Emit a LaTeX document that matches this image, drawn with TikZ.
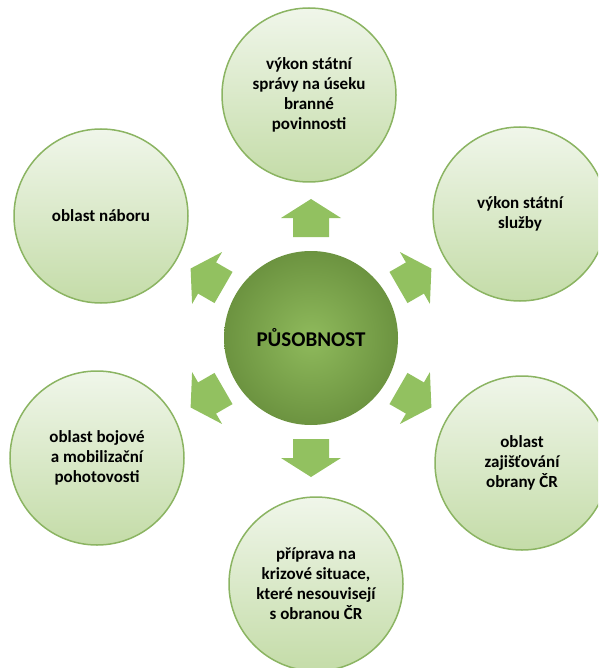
\documentclass[tikz,border=0pt]{standalone}
\usepackage{fontspec}
\setmainfont{Carlito}
\definecolor{ringline}{RGB}{139,180,98}
\definecolor{outtop}{RGB}{240,246,234}
\definecolor{outbot}{RGB}{196,220,168}
\definecolor{cin}{RGB}{143,186,92}
\definecolor{cout}{RGB}{108,147,64}
\definecolor{arrowfill}{RGB}{146,193,96}
\begin{document}
\begin{tikzpicture}[x=1pt,y=1pt,
  outer/.style={circle, minimum size=174pt, inner sep=0pt, draw=ringline, line width=1.5pt,
    top color=outtop, bottom color=outbot, align=center, text=black,
    font=\fontsize{17}{20}\selectfont\bfseries},
  hub/.style={circle, minimum size=174pt, inner sep=0pt, inner color=cin, outer color=cout,
    font=\fontsize{21}{24}\selectfont\bfseries, text=black},
  blockarrow/.style={fill=arrowfill}]
\useasboundingbox (0,0) rectangle (598,-668);
\clip (0,0) rectangle (598,-668);
\node[hub] (c) at (311,-338) {PŮSOBNOST};
\node[outer] (t) at (309,-95) {výkon státní\\správy na úseku\\branné\\povinnosti};
\node[outer] (rt) at (520,-214) {výkon státní\\služby};
\node[outer] (rb) at (522,-463) {oblast\\zajišťování\\obrany ČR};
\node[outer] (b) at (316,-584) {příprava na\\krizové situace,\\které nesouvisejí\\s obranou ČR};
\node[outer] (lb) at (97,-458) {oblast bojové\\a mobilizační\\pohotovosti};
\node[outer] (lt) at (101,-216) {oblast náboru};
\foreach \ang in {90,30,-30,-90,-150,150}{
  \begin{scope}[shift={(c.center)}, rotate=\ang]
    \fill[blockarrow] (101,-18) -- (120,-18) -- (120,-30) -- (139,0) -- (120,30) -- (120,18) -- (101,18) -- cycle;
  \end{scope}
}
\end{tikzpicture}
\end{document}
